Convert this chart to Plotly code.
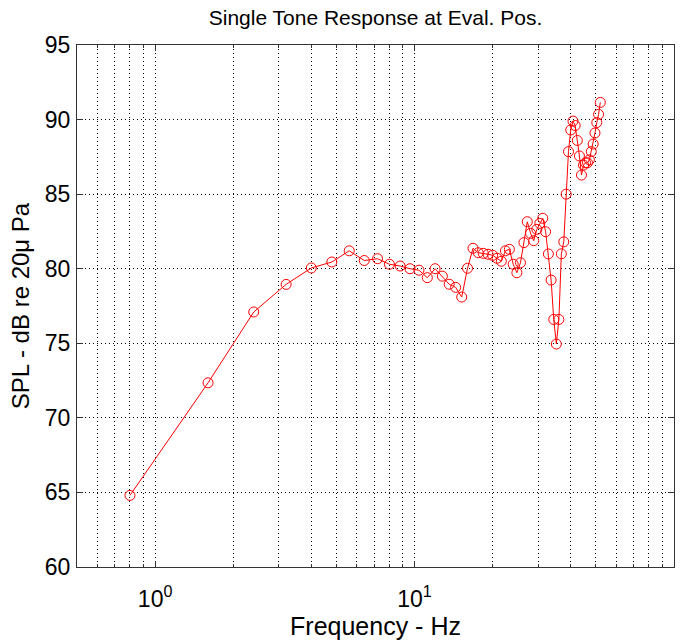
import plotly.graph_objects as go
import math

# Frequency (Hz) and SPL (dB re 20 uPa)
freq_hz = [0.8, 1.6, 2.4, 3.2, 4.0, 4.8, 5.6, 6.4, 7.2, 8.0, 8.8, 9.6,
           10.4, 11.2, 12.0, 12.8, 13.6, 14.4, 15.2, 16.0, 16.8, 17.6, 18.4, 19.2,
           20.0, 20.8, 21.6, 22.4, 23.2, 24.0, 24.8, 25.6, 26.4, 27.2, 28.0, 28.8,
           29.6, 30.4, 31.2, 32.0, 32.8, 33.6, 34.4, 35.2, 36.0, 36.8, 37.6, 38.4,
           39.2, 40.0, 40.8, 41.6, 42.4, 43.2, 44.0, 44.8, 45.6, 46.4, 47.2, 48.0,
           48.8, 49.6, 50.4, 51.2, 52.0]
spl_db = [64.8, 72.35, 77.1, 78.95, 80.05, 80.45, 81.2, 80.55, 80.67, 80.3, 80.18, 80.0,
          79.9, 79.4, 80.0, 79.5, 78.96, 78.75, 78.1, 80.03, 81.37, 81.07, 81.03, 80.97,
          80.9, 80.7, 80.5, 81.2, 81.3, 80.3, 79.73, 80.4, 81.75, 83.15, 82.37, 81.88,
          82.64, 83.04, 83.38, 82.48, 80.99, 79.24, 76.6, 74.95, 76.6, 81.0, 81.8, 85.0,
          87.85, 89.3, 89.9, 89.6, 88.6, 87.56, 86.28, 86.95, 87.1, 87.1, 87.3, 87.85,
          88.36, 89.1, 89.8, 90.35, 91.15]

x_major = [1, 10, 100]
x_major_text = ["10<sup>0</sup>", "10<sup>1</sup>", "10<sup>2</sup>"]
x_minor = [0.5, 0.6, 0.7, 0.8, 0.9, 2, 3, 4, 5, 6, 7, 8, 9,
           20, 30, 40, 50, 60, 70, 80, 90]
y_ticks = [60, 65, 70, 75, 80, 85, 90, 95]

FONT = "Liberation Sans, Arial, Helvetica, sans-serif"
GRID_DASH = "1px,3px"

fig = go.Figure()
fig.add_trace(go.Scatter(
    x=freq_hz, y=spl_db, mode="lines+markers",
    line=dict(color="#ff0000", width=1),
    marker=dict(symbol="circle-open", size=10, color="#ff0000", line=dict(width=1, color="#ff0000")),
    showlegend=False,
))

fig.update_layout(
    width=689, height=640,
    margin=dict(l=77, r=15, t=45, b=73, autoexpand=False),
    paper_bgcolor="white", plot_bgcolor="white",
    font=dict(family=FONT, color="black"),
    title=dict(text="Single Tone Response at Eval. Pos.", x=0.5, xref="paper", xanchor="center",
               y=1 - 18 / 640, yref="container", yanchor="middle",
               font=dict(size=21, family=FONT, color="black")),
)

fig.update_xaxes(
    type="log", range=[math.log10(0.5), 2], automargin=False,
    tickmode="array", tickvals=x_major, ticktext=x_major_text,
    ticks="inside", ticklen=6, tickcolor="#333", mirror="ticks",
    showline=True, linecolor="#333", linewidth=1,
    showgrid=True, gridcolor="black", gridwidth=1, griddash=GRID_DASH,
    minor=dict(tickmode="array", tickvals=x_minor, ticks="inside", ticklen=3, tickcolor="#333",
               showgrid=True, gridcolor="black", gridwidth=1, griddash=GRID_DASH),
    tickfont=dict(size=23, family=FONT, color="black"),
    ticklabelstandoff=11,
    title=dict(text="Frequency - Hz", font=dict(size=25, family=FONT, color="black"), standoff=7),
    zeroline=False,
)
fig.update_yaxes(
    range=[60, 95], automargin=False, tickmode="array", tickvals=y_ticks,
    ticks="inside", ticklen=6, tickcolor="#333", mirror="ticks",
    showline=True, linecolor="#333", linewidth=1,
    showgrid=True, gridcolor="black", gridwidth=1, griddash=GRID_DASH,
    tickfont=dict(size=23, family=FONT, color="black"),
    ticklabelstandoff=1,
    title=dict(text="SPL - dB re 20μ Pa", font=dict(size=24, family=FONT, color="black"), standoff=8),
    zeroline=False,
)

fig.write_html("out.html", config={"displayModeBar": False},
               post_script="document.body.style.margin='0';document.body.style.overflow='hidden';")
